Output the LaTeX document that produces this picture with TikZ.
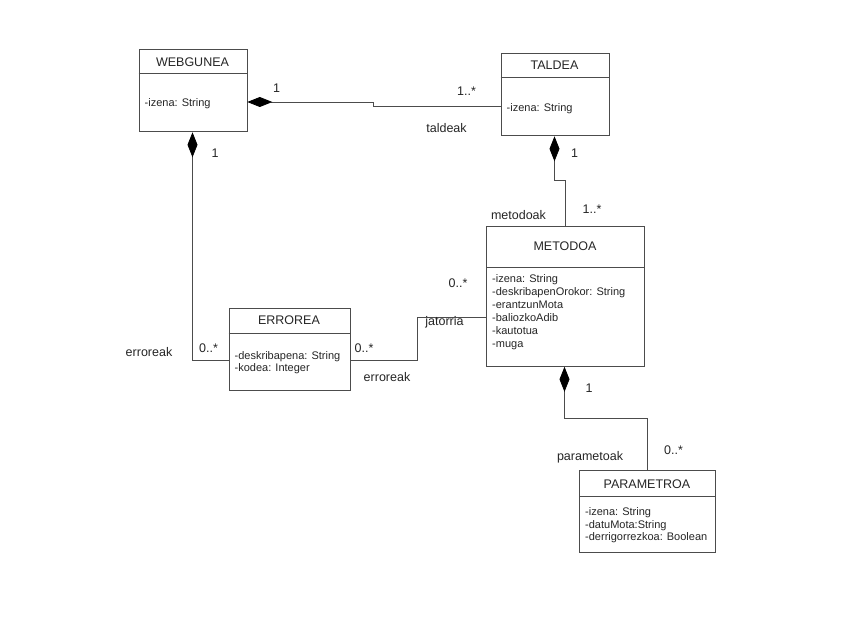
\documentclass[tikz,border=0pt]{standalone}
\usepackage{fontspec}
\setmainfont{Liberation Sans}
\usetikzlibrary{arrows.meta,calc}
\begin{document}
\begin{tikzpicture}[x=1pt,y=-1pt,
  box/.style={draw=black!70, line width=0.8pt, rectangle, anchor=north west, inner sep=0pt},
  divider/.style={draw=black!70, line width=0.8pt},
  cname/.style={font=\fontsize{12.5}{14}\selectfont, text=black!85, inner sep=0pt},
  attrs/.style={font=\fontsize{11}{13}\selectfont, text=black!85, align=left, anchor=north west, inner sep=0pt},
  lbl/.style={font=\fontsize{12.5}{14}\selectfont, text=black!85, inner sep=0pt, text height=9pt, text depth=0pt},
  conn/.style={draw=black!70, line width=0.8pt},
  comp/.style={conn, {Diamond[length=25pt,width=10pt,black]}-}
]
\useasboundingbox[fill=white] (0,0) rectangle (848,620);

% ---- boxes ----
\node[box, minimum width=108pt, minimum height=82pt] (web) at (138.5,49.5) {};
\draw[divider] ($(web.north west)+(0,24)$) -- ($(web.north east)+(0,24)$);
\node[cname] (webT) at (192.5,62) {WEBGUNEA};
\node[attrs] (webA) at (144.5,98) {-izena: String};

\node[box, minimum width=108pt, minimum height=82pt] (tal) at (500.5,53.5) {};
\draw[divider] ($(tal.north west)+(0,24)$) -- ($(tal.north east)+(0,24)$);
\node[cname] (talT) at (554.5,65.5) {TALDEA};
\node[attrs] (talA) at (506.5,103) {-izena: String};

\node[box, minimum width=158pt, minimum height=140pt] (met) at (486,226) {};
\draw[divider] ($(met.north west)+(0,41.5)$) -- ($(met.north east)+(0,41.5)$);
\node[cname] (metT) at (565,246.5) {METODOA};
\node[attrs] (metA) at (492,274) {-izena: String\\-deskribapenOrokor: String\\-erantzunMota\\-baliozkoAdib\\-kautotua\\-muga};

\node[box, minimum width=121pt, minimum height=82pt] (err) at (228.5,307.5) {};
\draw[divider] ($(err.north west)+(0,25.5)$) -- ($(err.north east)+(0,25.5)$);
\node[cname] (errT) at (289,320.5) {ERROREA};
\node[attrs, font=\fontsize{11}{12.5}\selectfont] (errA) at (234.5,351) {-deskribapena: String\\-kodea: Integer};

\node[box, minimum width=136pt, minimum height=82pt] (par) at (579,469.5) {};
\draw[divider] ($(par.north west)+(0,26.5)$) -- ($(par.north east)+(0,26.5)$);
\node[cname] (parT) at (647,484.5) {PARAMETROA};
\node[attrs, font=\fontsize{11}{12.9}\selectfont] (parA) at (585,507) {-izena: String\\-datuMota:String\\-derrigorrezkoa: Boolean};

% ---- connectors ----
\draw[comp] (web.east |- 0,102) -- (373,102) -- (373,106) -- (tal.west |- 0,106);
\draw[comp] (web.south -| 192.5,0) -- (192.5,360.5) -- (err.west |- 0,360.5);
\draw[comp] (tal.south -| 554.5,0) -- (554.5,180) -- (565,180) -- (met.north -| 565,0);
\draw[conn] (err.east |- 0,360.5) -- (417,360.5) -- (417,317) -- (met.west |- 0,317);
\draw[comp] (met.south -| 564.5,0) -- (564.5,418) -- (647,418) -- (par.north -| 647,0);

% ---- labels ----
\node[lbl] (l1) at (276.5,88.5) {1};
\node[lbl] (l2) at (466.5,91.5) {1..*};
\node[lbl] (l3) at (446.5,128.5) {taldeak};
\node[lbl] (l4) at (215,153) {1};
\node[lbl] (l5) at (574.5,153.5) {1};
\node[lbl] (l6) at (592,209.5) {1..*};
\node[lbl] (l7) at (518.5,215) {metodoak};
\node[lbl] (l8) at (149,351.5) {erroreak};
\node[lbl] (l9) at (208.5,347.5) {0..*};
\node[lbl] (l10) at (364,347.5) {0..*};
\node[lbl] (l11) at (387,376.5) {erroreak};
\node[lbl] (l12) at (444.5,321) {jatorria};
\node[lbl] (l13) at (458,283) {0..*};
\node[lbl] (l14) at (589,388) {1};
\node[lbl] (l15) at (673.5,450) {0..*};
\node[lbl] (l16) at (590,455.5) {parametoak};
\end{tikzpicture}
\end{document}
